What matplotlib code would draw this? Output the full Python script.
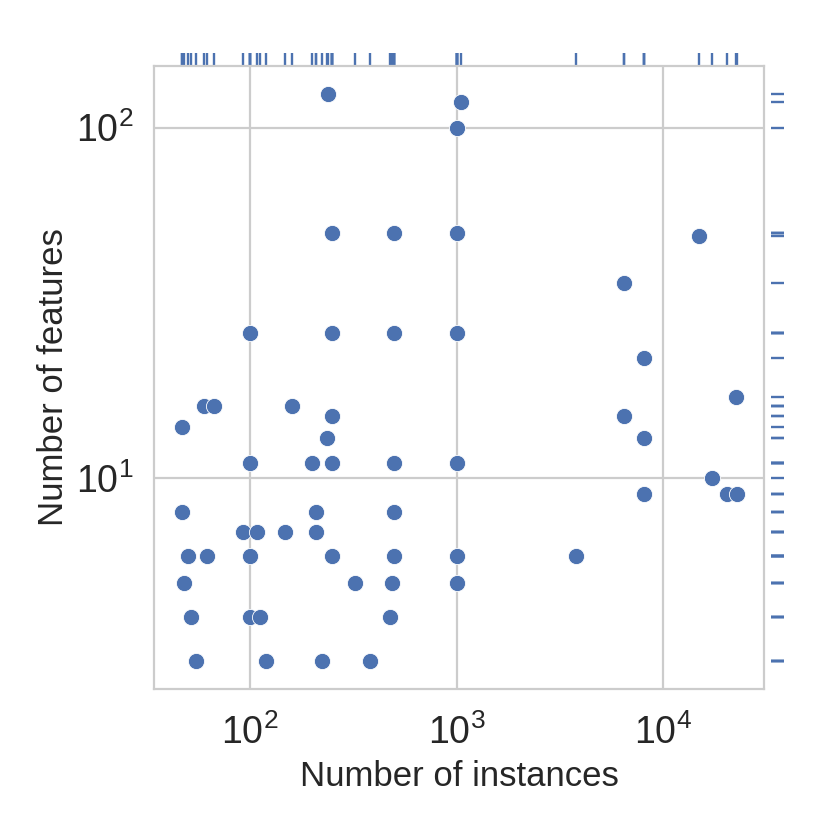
import matplotlib
matplotlib.use('Agg')
import matplotlib.pyplot as plt
import matplotlib.transforms as mtransforms
import seaborn as sns

# instances / features per dataset
n_instances = [240, 1055, 1000, 250, 500, 1000, 100, 250, 500, 1000,
               47, 60, 67, 159, 250, 235, 100, 200, 250, 500, 1000,
               47, 209, 500, 93, 108, 147, 209, 50, 62, 100, 250, 500, 1000,
               48, 323, 488, 1000, 52, 100, 112, 475, 55, 120, 222, 380,
               15000, 6435, 8124, 22650, 6500, 8124, 17270, 8124, 20300, 22700, 3800]
n_features = [125, 118, 100, 50, 50, 50, 26, 26, 26, 26,
              14, 16, 16, 16, 15, 13, 11, 11, 11, 11, 11,
              8, 8, 8, 7, 7, 7, 7, 6, 6, 6, 6, 6, 6,
              5, 5, 5, 5, 4, 4, 4, 4, 3, 3, 3, 3,
              49, 36, 22, 17, 15, 13, 10, 9, 9, 9, 6]

sns.set_style('whitegrid')
plt.rcParams['font.family'] = ['Liberation Sans', 'DejaVu Sans']
plt.rcParams['mathtext.default'] = 'regular'

blue = '#4C72B0'

fig = plt.figure(figsize=(4.15, 4.15), dpi=200)
ax = fig.add_axes([0.1855, 0.170, 0.735, 0.7505])

ax.scatter(n_instances, n_features, s=34, color=blue, edgecolor='white', linewidth=0.3, zorder=3)
ax.set_xscale('log')
ax.set_yscale('log')
ax.set_xlim(34.3, 30800)
ax.set_ylim(2.5, 150)
ax.minorticks_off()
ax.grid(True, which='major')

# rug marks outside the axes
tx = mtransforms.blended_transform_factory(ax.transData, ax.transAxes)
ax.vlines(n_instances, 1.002, 1.021, transform=tx, color=blue, lw=0.85, clip_on=False)
ty = mtransforms.blended_transform_factory(ax.transAxes, ax.transData)
ax.hlines(n_features, 1.0115, 1.033, transform=ty, color=blue, lw=0.85, clip_on=False)

ax.tick_params(axis='both', labelsize=13.5, colors='#262626', length=0)
ax.tick_params(axis='x', pad=9)
ax.tick_params(axis='y', pad=7.5)
ax.set_xlabel('Number of instances', fontsize=12.5, color='#262626', labelpad=3)
ax.set_ylabel('Number of features', fontsize=12.5, color='#262626', labelpad=2)

fig.savefig('out.png', dpi=200)
